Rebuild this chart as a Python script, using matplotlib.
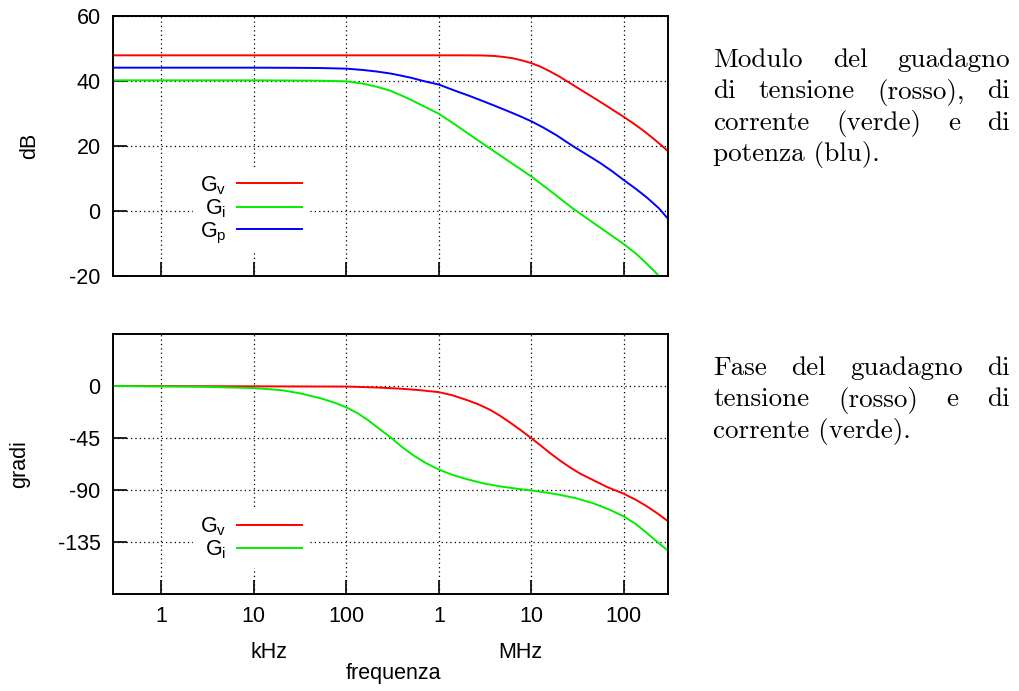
import numpy as np
import matplotlib
matplotlib.use("Agg")
import matplotlib.pyplot as plt

plt.rcParams['font.family'] = ['Liberation Sans', 'DejaVu Sans']
plt.rcParams['mathtext.fontset'] = 'custom'
plt.rcParams['mathtext.rm'] = 'Liberation Sans'
plt.rcParams['mathtext.it'] = 'Liberation Sans'

# ---------------- data (frequency in Hz) ----------------
f_gv_db = [3e2, 1e4, 1e5, 1e6, 2e6, 3e6, 4e6, 5e6, 6.3e6, 8e6, 1e7, 1.26e7, 1.58e7, 2e7, 2.5e7,
           3.16e7, 4e7, 5e7, 6.3e7, 7.9e7, 1e8, 1.26e8, 1.58e8, 2e8, 2.5e8, 3e8]
gv_db = [47.9, 47.9, 47.9, 47.9, 47.9, 47.85, 47.7, 47.4, 47.0, 46.3, 45.5, 44.4, 43.0, 41.4, 39.7,
         37.9, 36.1, 34.4, 32.6, 30.8, 28.95, 27.0, 25.0, 22.7, 20.4, 18.4]

f_gp_db = [3e2, 1e4, 3e4, 5e4, 1e5, 1.5e5, 2.15e5, 3e5, 3.83e5, 5e5, 6.8e5, 1e6, 1.5e6, 2.15e6, 3e6,
           4e6, 5.5e6, 7.5e6, 1e7, 1.35e7, 1.86e7, 2.8e7, 4e7, 5.6e7, 7.5e7, 1e8, 1.35e8, 1.78e8, 2.4e8, 3e8]
gp_db = [44.1, 44.1, 44.05, 44.0, 43.8, 43.4, 42.9, 42.3, 41.7, 41.0, 40.0, 38.9, 37.0, 35.4, 33.8,
         32.4, 30.8, 29.2, 27.6, 25.65, 23.35, 20.0, 17.3, 14.7, 12.2, 9.5, 6.8, 4.1, 0.8, -2.4]

f_gi_db = [3e2, 1e4, 5e4, 1e5, 1.5e5, 2.15e5, 3e5, 3.83e5, 5e5, 6.8e5, 1e6, 1.5e6, 2.15e6, 3e6,
           5e6, 1e7, 1.6e7, 2.8e7, 4e7, 5.6e7, 7.5e7, 1e8, 1.35e8, 1.78e8, 2.4e8, 3e8]
gi_db = [40.2, 40.2, 40.1, 39.9, 39.2, 38.2, 37.0, 35.7, 34.2, 32.3, 29.9, 26.6, 23.5, 20.7,
         16.4, 10.6, 6.2, 0.8, -2.3, -5.2, -7.7, -10.2, -13.1, -16.3, -20.0, -22.7]

f_gv_ph = [3e2, 1e5, 2e5, 3.83e5, 6e5, 1e6, 1.4e6, 2e6, 2.7e6, 3.6e6, 4.6e6, 5.9e6, 7.7e6, 1e7,
           1.26e7, 1.6e7, 2e7, 2.6e7, 3.4e7, 4.6e7, 6.5e7, 1e8, 1.35e8, 1.78e8, 2.3e8, 3e8]
gv_ph = [0.0, -0.5, -1.2, -2.3, -3.5, -5.3, -8.0, -12.1, -16.0, -20.7, -25.8, -31.7, -38.3, -45.2,
         -51.5, -58.2, -64.0, -70.3, -76.0, -81.2, -87.2, -93.3, -98.5, -104.2, -110.2, -117.0]

f_gi_ph = [3e2, 2.6e3, 1e4, 2e4, 3.18e4, 5.2e4, 7.5e4, 1e5, 1.3e5, 1.67e5, 2.2e5, 3.13e5, 4e5, 5.3e5,
           7.2e5, 1e6, 1.4e6, 2e6, 3e6, 4.6e6, 7e6, 1e7, 1.4e7, 2e7, 3e7, 4.6e7, 7e7, 1e8, 1.35e8,
           1.78e8, 2.3e8, 3e8]
gi_ph = [0.0, -0.6, -1.8, -3.6, -6.4, -10.5, -14.5, -18.5, -23.2, -28.9, -36.2, -45.6, -52.8, -60.0,
         -66.6, -72.3, -76.9, -80.6, -84.2, -86.9, -88.9, -90.4, -92.0, -94.1, -97.0, -101.3, -107.0,
         -112.9, -119.5, -127.3, -135.0, -142.5]

xticks = [1e3, 1e4, 1e5, 1e6, 1e7, 1e8]
xticklabels = ['1', '10', '100', '1', '10', '100']
db_ticks = [-20, 0, 20, 40, 60]
ph_ticks = [0, -45, -90, -135]

text_top = ["Modulo del guadagno", "di tensione (rosso), di", "corrente (verde) e di", "potenza (blu)."]
text_bot = ["Fase del guadagno di", "tensione (rosso) e di", "corrente (verde)."]

RED, GREEN, BLUE = '#ff0000', '#00ee00', '#0000ff'

W, H = 1019, 691
fig = plt.figure(figsize=(W / 100, H / 100), dpi=100)

def axrect(l, t, r, b):
    return [l / W, 1 - b / H, (r - l) / W, (b - t) / H]

ax1 = fig.add_axes(axrect(113, 16, 668, 276))
ax2 = fig.add_axes(axrect(113, 334, 668, 594))

FS = 15.5
for ax in (ax1, ax2):
    ax.set_xscale('log')
    ax.set_xlim(3e2, 3e8)
    ax.set_xticks(xticks)
    ax.minorticks_off()
    ax.grid(True, which='major', color='black', linestyle=(0, (1, 2.5)), linewidth=0.9)
    ax.tick_params(direction='in', length=10, width=1.2, labelsize=FS, pad=9,
                   top=False, right=False)
    for s in ax.spines.values():
        s.set_linewidth(1.4)

ax1.set_xticklabels([])
ax2.set_xticklabels(xticklabels)

ax1.set_ylim(-20, 60)
ax1.set_yticks(db_ticks)
ax1.set_yticklabels([str(v) for v in db_ticks])
ax2.set_ylim(-180, 45)
ax2.set_yticks(ph_ticks)
ax2.set_yticklabels([str(v) for v in ph_ticks])

lw = 1.4
ax1.plot(f_gv_db, gv_db, color=RED, lw=lw, label='G$_\\mathregular{v}$')
ax1.plot(f_gi_db, gi_db, color=GREEN, lw=lw, label='G$_\\mathregular{i}$')
ax1.plot(f_gp_db, gp_db, color=BLUE, lw=lw, label='G$_\\mathregular{p}$')
ax2.plot(f_gv_ph, gv_ph, color=RED, lw=lw, label='G$_\\mathregular{v}$')
ax2.plot(f_gi_ph, gi_ph, color=GREEN, lw=lw, label='G$_\\mathregular{i}$')

for ax, anchor in ((ax1, (0.145, 0.092)), (ax2, (0.145, 0.101))):
    leg = ax.legend(loc='lower left', bbox_to_anchor=anchor, markerfirst=False,
                    frameon=True, fancybox=False, framealpha=1, edgecolor='none',
                    fontsize=FS, handlelength=3.0, handletextpad=0.5,
                    labelspacing=0.03, borderpad=0.3, borderaxespad=0)
    leg.get_frame().set_linewidth(0)

fig.text(30 / W, 1 - 146 / H, 'dB', rotation=90, ha='center', va='center', fontsize=FS)
fig.text(20 / W, 1 - 464 / H, 'gradi', rotation=90, ha='center', va='center', fontsize=FS)
fig.text(269 / W, 1 - 652 / H, 'kHz', ha='center', va='center', fontsize=FS)
fig.text(520 / W, 1 - 652 / H, 'MHz', ha='center', va='center', fontsize=FS)
fig.text(393 / W, 1 - 674 / H, 'frequenza', ha='center', va='center', fontsize=FS)

# justified serif paragraphs
renderer = fig.canvas.get_renderer()
SFS = 19.5

def paragraph(lines, x0, x1, baselines):
    for k, (line, yb) in enumerate(zip(lines, baselines)):
        words = line.split()
        ypos = 1 - yb / H
        if k == len(lines) - 1 or len(words) == 1:
            fig.text(x0 / W, ypos, line, ha='left', va='baseline',
                     fontsize=SFS, family='cmr10')
            continue
        objs = [fig.text(0, ypos, w, ha='left', va='baseline', fontsize=SFS, family='cmr10')
                for w in words]
        widths = [o.get_window_extent(renderer).width for o in objs]
        gap = (x1 - x0 - sum(widths)) / (len(words) - 1)
        x = x0
        for o, wd in zip(objs, widths):
            o.set_x(x / W)
            x += wd + gap

paragraph(text_top, 713, 1010, [67, 98.5, 130, 161.5])
paragraph(text_bot, 713, 1010, [375, 406.5, 438])

fig.savefig('out.png', dpi=100)
